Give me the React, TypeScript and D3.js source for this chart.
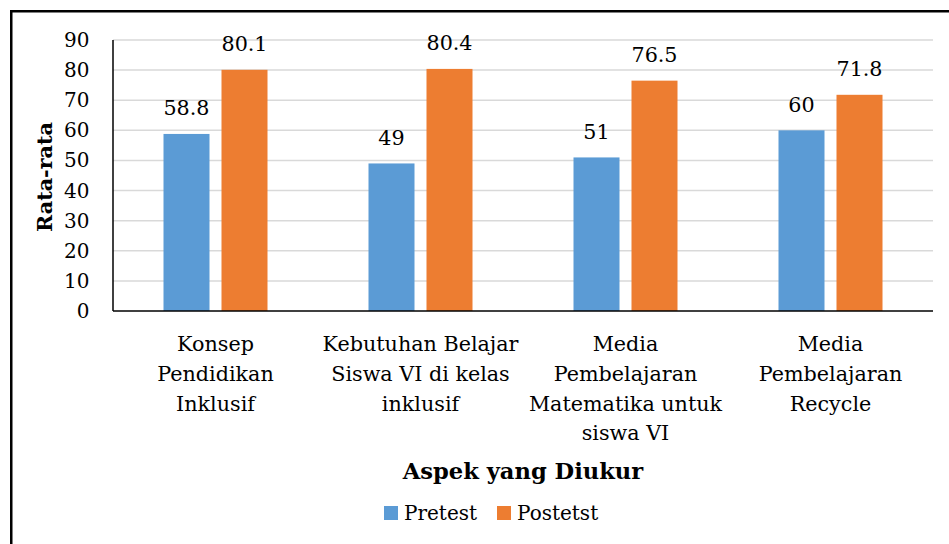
import React from "react";
import { scaleBand, scaleLinear } from "d3";

const svgWidth = 949;
const svgHeight = 544;
const margin = { top: 40, right: 16, bottom: 233, left: 113 };
const serif = "'Palatino Linotype', 'Book Antiqua', Palatino, 'DejaVu Serif', serif";

// data
const categories = [
  "Konsep Pendidikan Inklusif",
  "Kebutuhan Belajar Siswa VI di kelas inklusif",
  "Media Pembelajaran Matematika untuk siswa VI",
  "Media Pembelajaran Recycle",
];
const categoryLines = [
  ["Konsep", "Pendidikan", "Inklusif"],
  ["Kebutuhan Belajar", "Siswa VI di kelas", "inklusif"],
  ["Media", "Pembelajaran", "Matematika untuk", "siswa VI"],
  ["Media", "Pembelajaran", "Recycle"],
];
const seriesNames = ["Pretest", "Postetst"];
const pretest = [58.8, 49, 51, 60];
const posttest = [80.1, 80.4, 76.5, 71.8];
const seriesColors = ["#5B9BD5", "#ED7D31"];
const yTicks = [0, 10, 20, 30, 40, 50, 60, 70, 80, 90];

const catSize = 20.7;
const labelSize = 20.7;
const tickSize = 20;
const lineHeight = 29.8;

export default function App() {
  const x0 = margin.left;
  const x1 = svgWidth - margin.right;
  const yBase = svgHeight - margin.bottom;

  const xScale = scaleBand<string>().domain(categories).range([x0, x1]);
  const bw = xScale.bandwidth();
  const groupW = 104;
  const inner = scaleBand<string>()
    .domain(seriesNames)
    .range([(bw - groupW) / 2, (bw + groupW) / 2])
    .paddingInner(0.2069);

  const yScale = scaleLinear().domain([0, 90]).range([yBase, margin.top]);
  const seriesValues = [pretest, posttest];

  return (
    <svg
      width={svgWidth}
      height={svgHeight}
      style={{ position: "absolute", left: 0, top: 0, background: "#fff" }}
      fontFamily={serif}
    >
      <rect x={0} y={0} width={svgWidth} height={svgHeight} fill="#fff" />
      <rect
        x={11.25}
        y={11.25}
        width={svgWidth + 20}
        height={svgHeight + 20}
        fill="#fff"
        stroke="#000"
        strokeWidth={2.5}
      />

      {/* grid + y ticks */}
      {yTicks.map((t) => (
        <g key={`y${t}`}>
          {t > 0 && (
            <line
              x1={x0}
              x2={x1}
              y1={yScale(t)}
              y2={yScale(t)}
              stroke="#d9d9d9"
              strokeWidth={1.5}
            />
          )}
          <text
            x={89.5}
            y={yScale(t)}
            dy="0.35em"
            textAnchor="end"
            fontSize={tickSize}
            fill="#000"
          >
            {t}
          </text>
        </g>
      ))}

      {/* bars */}
      {categories.map((c, i) => (
        <g key={c} transform={`translate(${xScale(c)},0)`}>
          {seriesNames.map((s, j) => {
            const v = seriesValues[j][i];
            const bx = inner(s) as number;
            return (
              <g key={s}>
                <rect
                  x={bx}
                  y={yScale(v)}
                  width={inner.bandwidth()}
                  height={yBase - yScale(v)}
                  fill={seriesColors[j]}
                />
                <text
                  x={bx + inner.bandwidth() / 2}
                  y={yScale(v) - 18.5}
                  textAnchor="middle"
                  fontSize={labelSize}
                  fill="#000"
                >
                  {v}
                </text>
              </g>
            );
          })}
          {categoryLines[i].map((ln, k) => (
            <text
              key={k}
              x={bw / 2}
              y={351 + k * lineHeight}
              textAnchor="middle"
              fontSize={catSize}
              fill="#000"
            >
              {ln}
            </text>
          ))}
        </g>
      ))}

      {/* axes */}
      <line x1={x0} x2={x0} y1={margin.top} y2={yBase} stroke="#000" strokeWidth={1.5} />
      <line x1={x0} x2={x1} y1={yBase} y2={yBase} stroke="#000" strokeWidth={1.5} />

      {/* titles */}
      <text
        transform={`translate(51.5,${(margin.top + yBase) / 2 + 1.5}) rotate(-90)`}
        textAnchor="middle"
        fontSize={20.7}
        fontWeight="bold"
        fill="#000"
      >
        Rata-rata
      </text>
      <text
        x={(x0 + x1) / 2}
        y={478.5}
        textAnchor="middle"
        fontSize={22.6}
        fontWeight="bold"
        fill="#000"
      >
        Aspek yang Diukur
      </text>

      {/* legend */}
      {seriesNames.map((s, j) => {
        const lx = [384, 497][j];
        return (
          <g key={s}>
            <rect x={lx} y={506} width={14} height={14} fill={seriesColors[j]} />
            <text x={lx + 20} y={520} fontSize={20} fill="#000">
              {s}
            </text>
          </g>
        );
      })}
    </svg>
  );
}
